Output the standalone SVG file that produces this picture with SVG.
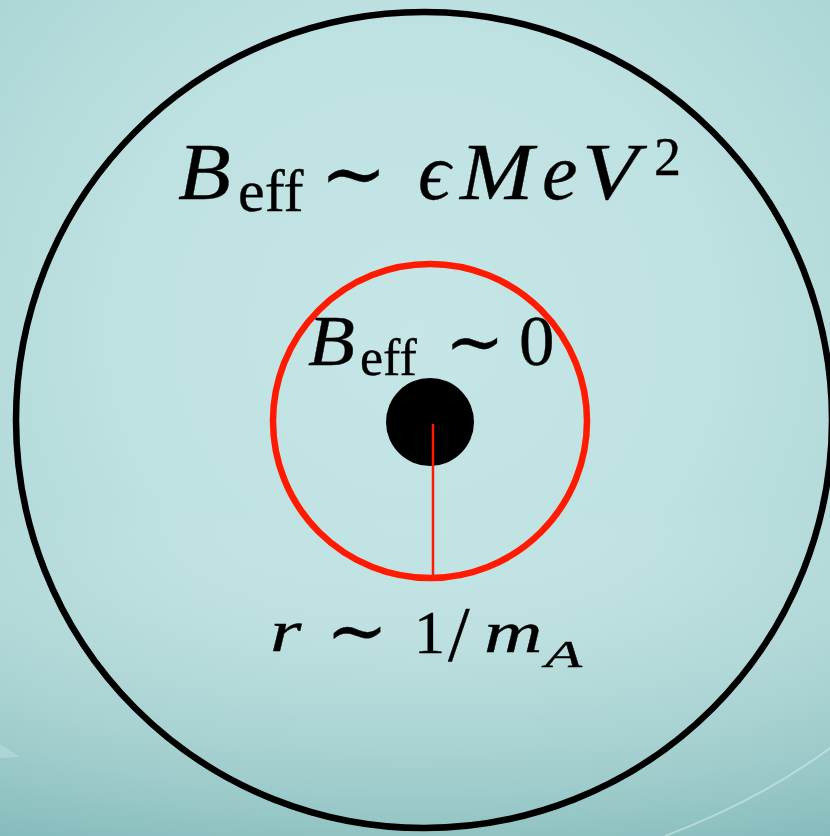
<svg xmlns="http://www.w3.org/2000/svg" width="830" height="836" viewBox="0 0 830 836">
<defs>
<radialGradient id="bg" cx="415" cy="330" r="680" gradientUnits="userSpaceOnUse">
<stop offset="0" stop-color="#c6e6e6"/>
<stop offset="0.45" stop-color="#bee1e1"/>
<stop offset="0.75" stop-color="#afd7d7"/>
<stop offset="1" stop-color="#9acaca"/>
</radialGradient>
<linearGradient id="shade" x1="0" y1="0" x2="0" y2="1">
<stop offset="0" stop-color="#ffffff" stop-opacity="0"/>
<stop offset="0.6" stop-color="#ffffff" stop-opacity="0"/>
<stop offset="1" stop-color="#5a9e9e" stop-opacity="0.35"/>
</linearGradient>
<style>
.m{font-family:"Liberation Serif","DejaVu Serif",serif;fill:#000;stroke:#000;stroke-width:0.35}
.i{font-style:italic}
</style>
</defs>
<rect width="830" height="836" fill="url(#bg)"/>
<rect width="830" height="836" fill="url(#shade)"/>
<path d="M830,748 Q760,800 665,836" fill="none" stroke="#e6f5f5" stroke-opacity="0.45" stroke-width="2"/>
<path d="M0,744 L20,757 L0,758 Z" fill="#d8eeee" fill-opacity="0.3"/>
<g id="outer-region">
<circle cx="424" cy="420" r="408" fill="none" stroke="#000" stroke-width="6.5"/>
</g>
<g id="inner-region">
<circle cx="430" cy="421" r="157" fill="none" stroke="#ff1a00" stroke-width="6.5"/>
</g>
<g id="core">
<circle cx="430" cy="422" r="44" fill="#000"/>
</g>
<g id="connectors">
<line x1="433" y1="424" x2="433" y2="576" stroke="#ff1a00" stroke-width="2.5"/>
</g>
<g id="label-outer">
<text class="m i" font-size="80" transform="translate(178,199) scale(1.08,1)">B</text>
<text class="m" font-size="60" transform="translate(238,211)">eff</text>
<text class="m" font-size="80" transform="translate(320,201)">∼</text>
<text class="m i" font-size="80" transform="translate(418,199)">ϵ</text>
<text class="m i" font-size="80" transform="translate(460,199) scale(1.1,1)">M</text>
<text class="m i" font-size="80" transform="translate(542,199)">e</text>
<text class="m i" font-size="80" transform="translate(582,199) scale(1.15,1)">V</text>
<text class="m" font-size="54" transform="translate(654,175)">2</text>
</g>
<g id="label-inner">
<text class="m i" font-size="71" transform="translate(308,365) scale(1.08,1)">B</text>
<text class="m" font-size="52" transform="translate(360,375)">eff</text>
<text class="m" font-size="71" transform="translate(445,366)">∼</text>
<text class="m" font-size="71" transform="translate(519,365)">0</text>
</g>
<g id="label-radius">
<text class="m i" font-size="60" transform="translate(270,651) scale(1.35,1)">r</text>
<text class="m" font-size="74" transform="translate(326,656)">∼</text>
<text class="m" font-size="62" transform="translate(414,653)">1</text>
<text class="m" font-size="78" transform="translate(448,660)">/</text>
<text class="m i" font-size="60" transform="translate(484,652) scale(1.35,1)">m</text>
<text class="m i" font-size="38" transform="translate(545,667) scale(1.6,1)">A</text>
</g>
</svg>
